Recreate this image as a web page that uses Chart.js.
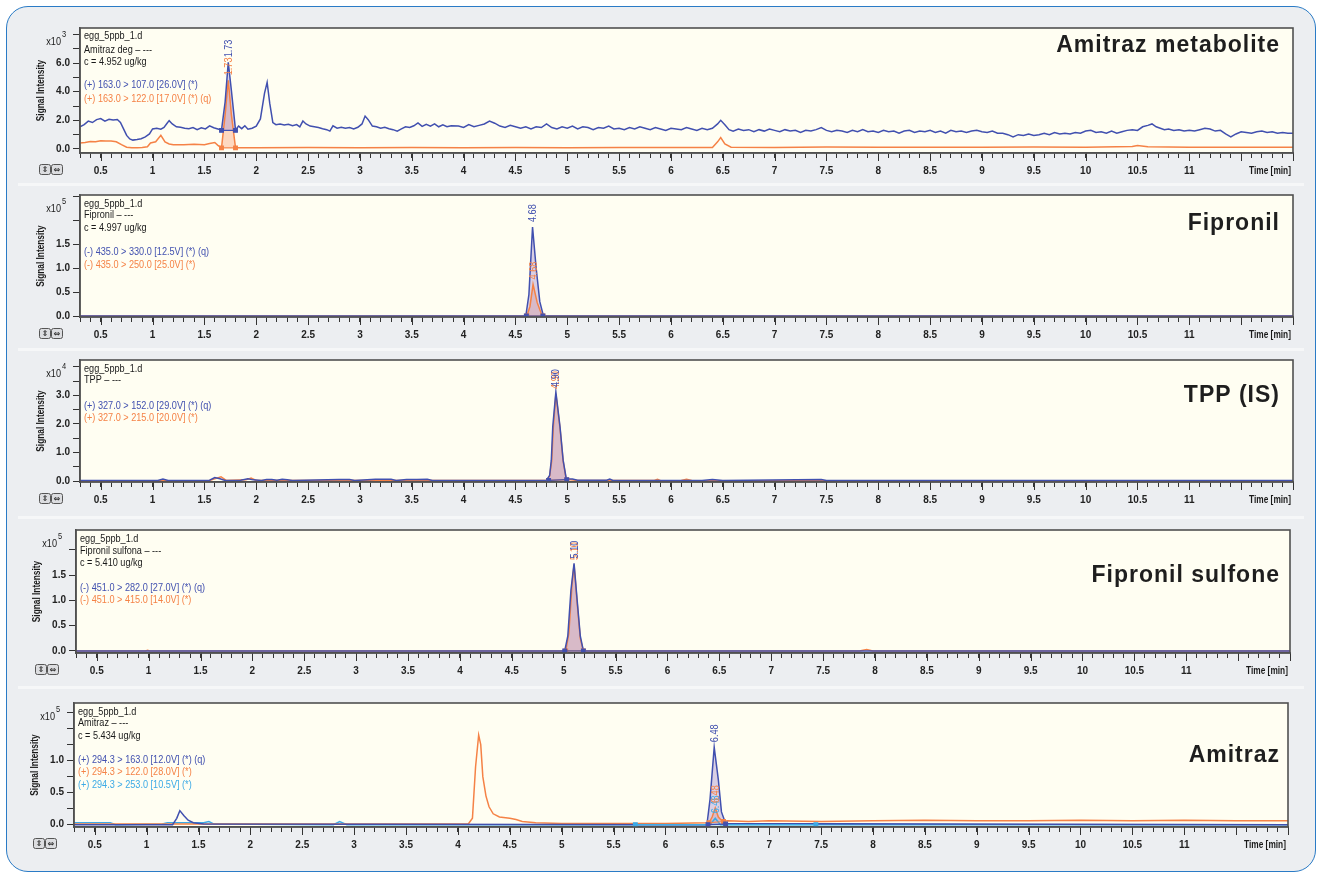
<!DOCTYPE html>
<html>
<head>
<meta charset="utf-8">
<script src="https://cdn.jsdelivr.net/npm/chart.js@4.4.0/dist/chart.umd.min.js"></script>
<style>
  html, body { margin: 0; padding: 0; background: #fff; }
  #frame { position: absolute; left: 6px; top: 6px; width: 1310px; height: 866px; box-sizing: border-box;
           background: #eceef1; border: 1.5px solid #2a7bc6; border-radius: 22px; }
  .sep { position: absolute; left: 18px; width: 1286px; height: 3px; background: #f6f7f8; }
  canvas { position: absolute; left: 30px; }
</style>
</head>
<body>
<div id="frame"></div>
<div class="sep" style="top:183px"></div>
<div class="sep" style="top:348px"></div>
<div class="sep" style="top:516px"></div>
<div class="sep" style="top:686px"></div>
<canvas id="p1"></canvas>
<canvas id="p2"></canvas>
<canvas id="p3"></canvas>
<canvas id="p4"></canvas>
<canvas id="p5"></canvas>
<script>
// ---- data: [time (min), intensity] ----
// Amitraz metabolite (x10^3)
const metBlue = [
  [0.30,1.55],[0.34,1.70],[0.38,1.95],[0.42,1.85],[0.46,2.05],[0.50,2.12],[0.54,1.95],[0.58,2.08],[0.62,2.02],[0.66,2.06],
  [0.69,1.85],[0.72,1.40],[0.75,0.95],[0.78,0.70],[0.81,0.62],[0.85,0.66],[0.89,0.72],[0.93,0.85],[0.97,1.05],[1.00,1.40],
  [1.04,1.45],[1.08,1.38],[1.11,1.50],[1.14,1.80],[1.16,1.98],[1.19,1.75],[1.23,1.55],[1.27,1.52],[1.31,1.45],[1.35,1.42],
  [1.39,1.50],[1.43,1.35],[1.47,1.48],[1.51,1.40],[1.55,1.62],[1.59,1.48],[1.63,1.40],[1.665,1.33],[1.70,3.30],[1.73,6.05],
  [1.76,4.10],[1.80,1.33],[1.83,1.60],[1.86,1.42],[1.89,1.62],[1.92,1.38],[1.96,1.45],[2.00,1.60],[2.04,2.10],[2.08,3.90],
  [2.105,4.65],[2.13,3.20],[2.16,1.85],[2.19,1.70],[2.23,1.75],[2.27,1.68],[2.31,1.72],[2.35,1.62],[2.39,1.70],[2.42,1.55],
  [2.45,1.95],[2.48,1.75],[2.52,1.60],[2.56,1.55],[2.60,1.50],[2.64,1.42],[2.68,1.35],[2.71,1.25],[2.74,1.62],[2.78,1.45],
  [2.82,1.52],[2.86,1.45],[2.90,1.50],[2.94,1.40],[2.98,1.52],[3.02,1.75],[3.05,2.30],[3.08,2.05],[3.12,1.60],[3.16,1.55],
  [3.20,1.45],[3.24,1.52],[3.28,1.42],[3.32,1.35],[3.36,1.25],[3.40,1.40],[3.44,1.55],[3.48,1.50],[3.52,1.62],[3.56,1.82],
  [3.60,1.58],[3.64,1.72],[3.68,1.60],[3.72,1.75],[3.76,1.55],[3.80,1.68],[3.84,1.55],[3.88,1.62],[3.95,1.60],[4.00,1.50],
  [4.05,1.70],[4.10,1.55],[4.15,1.65],[4.20,1.75],[4.25,1.95],[4.30,1.80],[4.35,1.60],[4.40,1.50],[4.45,1.65],[4.50,1.55],
  [4.55,1.45],[4.60,1.55],[4.65,1.40],[4.70,1.55],[4.75,1.50],[4.80,1.75],[4.85,1.50],[4.90,1.40],[4.95,1.55],[5.00,1.45],
  [5.05,1.60],[5.10,1.40],[5.15,1.55],[5.20,1.50],[5.25,1.35],[5.30,1.50],[5.35,1.45],[5.40,1.60],[5.45,1.40],[5.50,1.45],
  [5.55,1.35],[5.60,1.50],[5.65,1.40],[5.70,1.55],[5.75,1.45],[5.80,1.35],[5.85,1.50],[5.90,1.40],[5.95,1.30],[6.00,1.45],
  [6.05,1.40],[6.10,1.35],[6.15,1.50],[6.20,1.40],[6.25,1.30],[6.30,1.45],[6.35,1.35],[6.40,1.45],[6.45,1.75],[6.48,2.00],
  [6.52,1.70],[6.56,1.35],[6.60,1.25],[6.65,1.40],[6.70,1.30],[6.75,1.35],[6.80,1.20],[6.85,1.35],[6.90,1.25],[6.95,1.40],
  [7.00,1.30],[7.05,1.20],[7.10,1.35],[7.15,1.25],[7.20,1.30],[7.25,1.15],[7.30,1.30],[7.35,1.25],[7.40,1.35],[7.45,1.50],
  [7.50,1.30],[7.55,1.20],[7.60,1.30],[7.65,1.25],[7.70,1.15],[7.75,1.30],[7.80,1.20],[7.85,1.35],[7.90,1.20],[7.95,1.25],
  [8.00,1.15],[8.05,1.30],[8.10,1.20],[8.15,1.25],[8.20,1.10],[8.25,1.25],[8.30,1.30],[8.35,1.15],[8.40,1.25],[8.45,1.20],
  [8.50,1.30],[8.55,1.15],[8.60,1.25],[8.65,1.10],[8.70,1.30],[8.75,1.20],[8.80,1.25],[8.85,1.15],[8.90,1.25],[8.95,1.30],
  [9.00,1.20],[9.05,1.15],[9.10,1.25],[9.15,1.10],[9.20,1.10],[9.25,1.00],[9.30,0.85],[9.35,1.00],[9.40,0.95],[9.45,1.05],
  [9.50,0.95],[9.55,1.00],[9.60,1.10],[9.65,1.00],[9.70,1.15],[9.75,1.05],[9.80,1.10],[9.85,1.05],[9.90,1.15],[9.95,1.10],
  [10.00,1.25],[10.05,1.30],[10.10,1.15],[10.15,1.20],[10.20,1.10],[10.25,1.25],[10.30,1.10],[10.35,1.20],[10.40,1.30],[10.45,1.35],
  [10.50,1.30],[10.55,1.55],[10.60,1.65],[10.64,1.75],[10.68,1.55],[10.72,1.45],[10.76,1.35],[10.80,1.40],[10.85,1.30],[10.90,1.35],
  [10.95,1.25],[11.00,1.30],[11.05,1.25],[11.10,1.35],[11.15,1.45],[11.20,1.40],[11.25,1.25],[11.30,1.30],[11.35,1.05],[11.40,0.85],
  [11.45,1.05],[11.50,1.20],[11.55,1.15],[11.60,1.10],[11.65,1.20],[11.70,1.25],[11.75,1.15],[11.80,1.20],[11.85,1.10],[11.90,1.15],
  [11.95,1.10],[12.00,1.10]
];
const metOrange = [
  [0.30,0.42],[0.35,0.45],[0.40,0.52],[0.45,0.50],[0.50,0.58],[0.55,0.55],[0.60,0.56],[0.65,0.50],[0.70,0.30],[0.75,0.12],
  [0.80,0.08],[0.85,0.08],[0.90,0.10],[0.95,0.15],[0.98,0.42],[1.03,0.50],[1.08,0.95],[1.12,0.50],[1.16,0.35],[1.20,0.30],
  [1.30,0.30],[1.40,0.33],[1.50,0.30],[1.55,0.38],[1.60,0.45],[1.63,0.25],[1.665,0.08],[1.70,2.40],[1.73,4.80],[1.76,2.40],
  [1.80,0.08],[2.00,0.08],[2.50,0.10],[3.00,0.08],[3.50,0.10],[4.00,0.08],[4.50,0.10],[5.00,0.08],[5.50,0.10],[6.00,0.10],
  [6.40,0.10],[6.45,0.50],[6.48,0.80],[6.52,0.35],[6.58,0.12],[7.00,0.10],[7.50,0.14],[8.00,0.12],[8.50,0.12],[9.00,0.12],
  [9.50,0.14],[10.00,0.12],[10.45,0.18],[10.50,0.25],[10.60,0.15],[11.00,0.12],[11.50,0.12],[12.00,0.12]
];
const metBlueBase = [[1.665,1.30],[1.80,1.30]];
const metOrangeBase = [[1.665,0.08],[1.80,0.08]];
const metRT = ['1.73', '1.73'];

// Fipronil (x10^5)
const fipBlue = [[0.30,0],[4.60,0],[4.63,0.45],[4.665,1.86],[4.70,1.00],[4.735,0.30],[4.77,0],[12.00,0]];
const fipOrange = [[0.30,0],[4.61,0],[4.64,0.20],[4.67,0.66],[4.71,0.28],[4.75,0.05],[4.77,0],[12.00,0]];
const fipBlueBase = [[4.605,0],[4.765,0]];
const fipOrangeBase = [[4.61,0],[4.765,0]];
const fipRT = ['4.68', '4.68'];

// TPP (x10^4)
const tppBlue = [
  [0.30,0.02],[1.05,0.02],[1.10,0.07],[1.15,0.02],[1.55,0.03],[1.60,0.12],[1.65,0.08],[1.70,0.02],[1.85,0.03],[1.92,0.08],
  [1.97,0.04],[2.05,0.02],[2.10,0.05],[2.15,0.05],[2.20,0.03],[2.25,0.06],[2.30,0.04],[2.35,0.02],[2.80,0.05],[2.90,0.05],
  [2.95,0.02],[3.15,0.06],[3.30,0.06],[3.35,0.02],[3.45,0.05],[3.55,0.05],[3.65,0.06],[3.70,0.02],[4.80,0.03],[4.83,0.20],
  [4.846,0.73],[4.86,1.90],[4.89,3.12],[4.93,1.90],[4.96,0.73],[4.99,0.08],[5.05,0.07],[5.10,0.03],[5.38,0.03],[5.41,0.07],
  [5.44,0.02],[6.30,0.02],[6.40,0.05],[6.50,0.02],[7.45,0.05],[7.50,0.02],[12.00,0.02]
];
const tppOrange = [
  [0.30,0.01],[1.55,0.02],[1.62,0.10],[1.66,0.15],[1.71,0.02],[1.90,0.04],[1.95,0.10],[2.00,0.02],[4.80,0.02],[4.83,0.18],
  [4.85,0.70],[4.865,1.85],[4.89,3.05],[4.93,1.85],[4.96,0.70],[4.99,0.06],[5.10,0.02],[5.84,0.02],[5.87,0.06],[5.90,0.01],
  [6.10,0.02],[6.15,0.06],[6.20,0.02],[12.00,0.01]
];
const tppBlueBase = [[4.82,0.02],[4.995,0.05]];
const tppOrangeBase = [[4.82,0.02],[4.995,0.04]];
const tppRT = ['4.90', '4.90'];

// Fipronil sulfone (x10^5)
const sulBlue = [[0.30,0],[5.01,0],[5.04,0.30],[5.07,1.20],[5.10,1.73],[5.13,1.00],[5.16,0.30],[5.19,0],[12.00,0]];
const sulOrange = [
  [0.30,0],[0.97,0],[0.99,0.015],[1.01,0],[5.02,0],[5.05,0.35],[5.08,1.30],[5.10,1.70],[5.13,0.95],[5.16,0.25],
  [5.19,0],[7.85,0],[7.92,0.03],[7.98,0],[12.00,0]
];
const sulBlueBase = [[5.01,0],[5.19,0]];
const sulOrangeBase = [[5.02,0],[5.19,0]];
const sulRT = ['5.10', '5.10'];

// Amitraz (x10^5)
const amiBlue = [
  [0.30,0.00],[1.25,0.00],[1.29,0.10],[1.32,0.22],[1.36,0.14],[1.40,0.07],[1.45,0.03],[1.55,0.01],[6.40,0.00],[6.43,0.40],
  [6.47,1.21],[6.51,0.70],[6.54,0.20],[6.58,0.02],[12.00,0.00]
];
const amiOrange = [
  [0.30,0.01],[4.10,0.01],[4.14,0.10],[4.17,0.90],[4.20,1.40],[4.22,1.25],[4.24,0.75],[4.27,0.45],[4.30,0.28],[4.34,0.17],
  [4.40,0.12],[4.50,0.10],[4.56,0.08],[4.62,0.05],[4.75,0.03],[5.00,0.02],[5.50,0.02],[6.00,0.02],[6.42,0.03],[6.45,0.12],
  [6.48,0.26],[6.51,0.12],[6.55,0.05],[6.60,0.06],[6.80,0.05],[7.00,0.06],[7.50,0.05],[8.00,0.06],[8.50,0.07],[9.00,0.06],
  [9.50,0.06],[10.00,0.07],[10.50,0.06],[11.00,0.07],[11.50,0.06],[12.00,0.06]
];
const amiCyan = [
  [0.30,0.03],[0.65,0.03],[0.70,0.00],[1.15,0.01],[1.20,0.03],[1.55,0.03],[1.60,0.05],[1.65,0.01],[2.80,0.00],[2.86,0.05],
  [2.93,0.00],[6.43,0.00],[6.48,0.10],[6.53,0.00],[12.00,0.00]
];
const amiBlueBase = [[6.41,0],[6.58,0.01]];
const amiOrangeBase = [[6.42,0.03],[6.56,0.05]];
const amiCyanBase = [[5.71,0],[7.45,0]];
const amiRT = ['6.48', '6.48', '6.48'];

// ---- styling ----
const FONT = '"Liberation Sans", Arial, sans-serif';
const BLUE = '#4150af', ORANGE = '#f58246', CYAN = '#3caae6', INK = '#1a1a1a';
const BLUE_FILL = 'rgba(170,150,210,0.45)', ORANGE_FILL = 'rgba(250,170,130,0.45)', CYAN_FILL = 'rgba(120,200,240,0.35)';
Chart.defaults.font.family = FONT;

const panels = [
  { id: 'p1', box: [80, 28, 1294, 153], y: [-0.28, 8.45, 1, 2, 6], exp: '3', title: 'Amitraz metabolite', titleDy: 18,
    info: [['egg_5ppb_1.d', INK, 8], ['Amitraz deg \u2013 ---', INK, 22], ['c = 4.952 ug/kg', INK, 34],
           ['(+) 163.0 > 107.0 [26.0V] (*)', BLUE, 57], ['(+) 163.0 > 122.0 [17.0V] (*) (q)', ORANGE, 71]],
    traces: [[metBlue, BLUE, metBlueBase, BLUE_FILL, metRT[0]], [metOrange, ORANGE, metOrangeBase, ORANGE_FILL, metRT[1]]] },
  { id: 'p2', box: [80, 195, 1294, 317], y: [-0.02, 2.53, 0.25, 0.5, 1.5], exp: '5', title: 'Fipronil', titleDy: 29,
    info: [['egg_5ppb_1.d', INK, 9], ['Fipronil \u2013 ---', INK, 20], ['c = 4.997 ug/kg', INK, 33],
           ['(-) 435.0 > 330.0 [12.5V] (*) (q)', BLUE, 57], ['(-) 435.0 > 250.0 [25.0V] (*)', ORANGE, 70]],
    traces: [[fipBlue, BLUE, fipBlueBase, BLUE_FILL, fipRT[0]], [fipOrange, ORANGE, fipOrangeBase, ORANGE_FILL, fipRT[1]]] },
  { id: 'p3', box: [80, 360, 1294, 482], y: [-0.035, 4.24, 0.5, 1, 3], exp: '4', title: 'TPP (IS)', titleDy: 36,
    info: [['egg_5ppb_1.d', INK, 9], ['TPP \u2013 ---', INK, 20],
           ['(+) 327.0 > 152.0 [29.0V] (*) (q)', BLUE, 46], ['(+) 327.0 > 215.0 [20.0V] (*)', ORANGE, 58]],
    traces: [[tppBlue, BLUE, tppBlueBase, BLUE_FILL, tppRT[0]], [tppOrange, ORANGE, tppOrangeBase, ORANGE_FILL, tppRT[1]]] },
  { id: 'p4', box: [76, 530, 1290, 653], y: [-0.04, 2.39, 0.25, 0.5, 1.5], exp: '5', title: 'Fipronil sulfone', titleDy: 46,
    info: [['egg_5ppb_1.d', INK, 9], ['Fipronil sulfona \u2013 ---', INK, 21], ['c = 5.410 ug/kg', INK, 33],
           ['(-) 451.0 > 282.0 [27.0V] (*) (q)', BLUE, 58], ['(-) 451.0 > 415.0 [14.0V] (*)', ORANGE, 70]],
    traces: [[sulBlue, BLUE, sulBlueBase, BLUE_FILL, sulRT[0]], [sulOrange, ORANGE, sulOrangeBase, ORANGE_FILL, sulRT[1]]] },
  { id: 'p5', box: [74, 703, 1288, 827], y: [-0.036, 1.9, 0.25, 0.5, 1.0], exp: '5', title: 'Amitraz', titleDy: 53,
    info: [['egg_5ppb_1.d', INK, 9], ['Amitraz \u2013 ---', INK, 20], ['c = 5.434 ug/kg', INK, 33],
           ['(+) 294.3 > 163.0 [12.0V] (*) (q)', BLUE, 57], ['(+) 294.3 > 122.0 [28.0V] (*)', ORANGE, 69],
           ['(+) 294.3 > 253.0 [10.5V] (*)', CYAN, 82]],
    traces: [[amiBlue, BLUE, amiBlueBase, BLUE_FILL, amiRT[0]], [amiOrange, ORANGE, amiOrangeBase, ORANGE_FILL, amiRT[1]],
             [amiCyan, CYAN, amiCyanBase, CYAN_FILL, amiRT[2]]] }
];

const pts = arr => arr.map(([x, y]) => ({ x, y }));
const isMajorX = v => { const r = Math.round(v * 10) / 10; return Math.abs(r * 2 - Math.round(r * 2)) < 1e-6; };

function peakTip(trace, base) {
  let best = null;
  trace.forEach(([x, y]) => { if (x > base[0][0] && x < base[1][0] && (!best || y > best[1])) best = [x, y]; });
  return best;
}

// condensed text: squeeze the glyphs horizontally
function narrow(ctx, txt, x, y, align, rot) {
  ctx.save();
  ctx.translate(x, y);
  if (rot) ctx.rotate(rot);
  ctx.scale(0.83, 1);
  ctx.textAlign = align;
  ctx.fillText(txt, 0, 0);
  ctx.restore();
}

function decor(p) {
  return {
    id: 'decor',
    beforeDraw(chart) {
      const { ctx, chartArea: a } = chart;
      ctx.save();
      ctx.fillStyle = '#fffef2';
      ctx.fillRect(a.left, a.top, a.right - a.left, a.bottom - a.top);
      ctx.restore();
    },
    afterDraw(chart) {
      const { ctx, chartArea: a, scales } = chart;
      const xs = scales.x, ys = scales.y;
      ctx.save();
      // longer ticks on the half minutes
      ctx.strokeStyle = '#333'; ctx.lineWidth = 1;
      xs.ticks.forEach(t => {
        if (!isMajorX(t.value)) return;
        const px = Math.round(xs.getPixelForValue(t.value)) + 0.5;
        ctx.beginPath(); ctx.moveTo(px, a.bottom); ctx.lineTo(px, a.bottom + 8); ctx.stroke();
      });
      // plot frame
      ctx.strokeStyle = '#505050'; ctx.lineWidth = 1.6;
      ctx.strokeRect(a.left, a.top, a.right - a.left, a.bottom - a.top);

      // compound info text
      ctx.font = '11px ' + FONT; ctx.textBaseline = 'middle';
      p.info.forEach(([txt, col, dy]) => { ctx.fillStyle = col; narrow(ctx, txt, a.left + 4, a.top + dy, 'left'); });

      // big title
      ctx.font = 'bold 23px "Liberation Sans", Arial, sans-serif';
      ctx.letterSpacing = '1px';
      ctx.textAlign = 'right'; ctx.fillStyle = '#1e1e1e';
      ctx.fillText(p.title, a.left + (1280 - p.box[0]), a.top + p.titleDy);
      ctx.letterSpacing = '0px';

      // x10^n
      ctx.fillStyle = INK;
      ctx.font = '11px ' + FONT;
      narrow(ctx, 'x10', a.left - 19, a.top + 14, 'right');
      ctx.font = '9px ' + FONT;
      narrow(ctx, p.exp, a.left - 18, a.top + 7, 'left');

      // axis titles
      ctx.font = 'bold 10px ' + FONT;
      narrow(ctx, 'Signal Intensity', a.left - 39, (a.top + a.bottom) / 2, 'center', -Math.PI / 2);
      narrow(ctx, 'Time [min]', a.right - 23, a.bottom + 18, 'center');

      // little zoom buttons
      [[a.left - 41, '\u21D5'], [a.left - 29, '\u21D4']].forEach(([bx, g]) => {
        ctx.fillStyle = '#dcdde0'; ctx.strokeStyle = '#555'; ctx.lineWidth = 1;
        ctx.beginPath(); ctx.roundRect(bx + 0.5, a.bottom + 11.5, 11, 10, 2); ctx.fill(); ctx.stroke();
        ctx.fillStyle = '#333'; ctx.font = 'bold 8px "DejaVu Sans", sans-serif'; ctx.textAlign = 'center';
        ctx.fillText(g, bx + 6, a.bottom + 17);
      });

      // retention time labels above peaks
      ctx.font = '11px ' + FONT; ctx.textBaseline = 'middle';
      p.traces.slice().reverse().forEach(([trace, col, base, , rt]) => {
        const tip = peakTip(trace, base);
        if (!tip) return;
        ctx.fillStyle = col;
        narrow(ctx, rt, xs.getPixelForValue(tip[0]) + 0.5, ys.getPixelForValue(tip[1]) - 5, 'left', -Math.PI / 2);
      });
      ctx.restore();
    }
  };
}

panels.forEach(p => {
  const [L, T, R, B] = p.box;
  const cv = document.getElementById(p.id);
  cv.width = 1270; cv.height = 12 + (B - T) + 28;
  cv.style.top = (T - 12) + 'px';
  const [yMin, yMax, yStep, yLabStep, yLabMax] = p.y;

  const datasets = [];
  p.traces.forEach(([trace, col, base, fillCol], i) => {
    const inside = trace.filter(([x]) => x > base[0][0] && x < base[1][0]);
    datasets.push({ data: pts([base[0], ...inside, base[1]]), fill: 'shape', backgroundColor: fillCol,
                    borderWidth: 0, pointRadius: 0, order: 20 + i });
    datasets.push({ data: pts(trace), borderColor: col, borderWidth: 1.5, pointRadius: 0, fill: false,
                    order: 5 + i });
    datasets.push({ data: pts(base), borderColor: col, borderWidth: 1.2, pointStyle: 'rect', pointRadius: 2.6,
                    pointBackgroundColor: col, pointBorderColor: col, fill: false, order: 1 + i });
  });

  new Chart(cv, {
    type: 'line',
    data: { datasets },
    options: {
      responsive: false,
      animation: false,
      layout: { padding: { left: 0, top: 12, right: 1300 - R, bottom: 0 } },
      plugins: { legend: { display: false }, tooltip: { enabled: false } },
      elements: { line: { tension: 0 } },
      scales: {
        x: {
          type: 'linear', min: 0.3, max: 12.0,
          ticks: {
            stepSize: 0.1, autoSkip: false, maxRotation: 0, includeBounds: false, padding: 7,
            color: '#222', font: { size: 10, weight: 'bold' },
            callback: v => { const r = Math.round(v * 10) / 10; return isMajorX(r) && r <= 11.01 ? String(r) : ''; }
          },
          grid: { drawOnChartArea: false, tickLength: 5, color: '#333' },
          border: { color: '#505050', width: 1.5 },
          afterFit: s => { s.height = 28; }
        },
        y: {
          min: yMin, max: yMax,
          ticks: {
            stepSize: yStep, includeBounds: false, padding: 3, color: '#222', font: { size: 10, weight: 'bold' },
            callback: v => {
              const r = Math.round(v * 1000) / 1000;
              const k = r / yLabStep;
              return Math.abs(k - Math.round(k)) < 1e-6 && r <= yLabMax + 1e-6 && r > -1e-6 ? r.toFixed(1) : '';
            }
          },
          grid: { drawOnChartArea: false, tickLength: 7, color: '#333' },
          border: { color: '#505050', width: 1.5 },
          afterFit: s => { s.width = L - 30; }
        }
      }
    },
    plugins: [decor(p)]
  });
});
</script>
</body>
</html>
